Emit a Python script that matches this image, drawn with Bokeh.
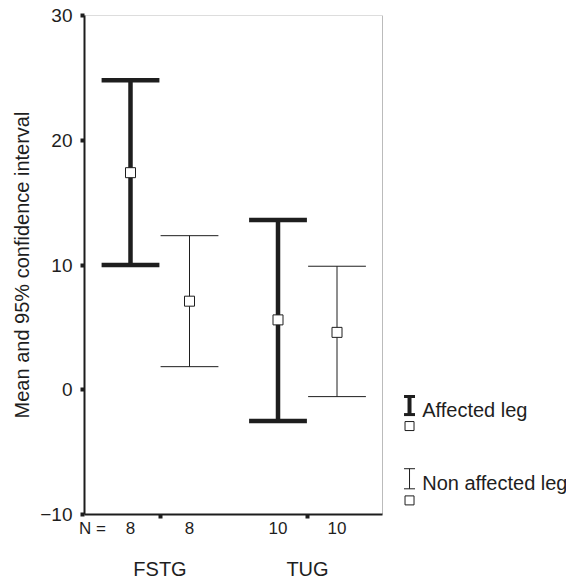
from bokeh.plotting import figure
from bokeh.models import Range1d, FixedTicker, LinearAxis, ColumnDataSource, BoxAnnotation
from bokeh.embed import file_html
from bokeh.resources import INLINE
from bokeh.core.properties import value

# ---- data ----
groups = ["FSTG", "TUG"]
series = ["Affected leg", "Non affected leg"]
n_label = "N ="
n_affected = [8, 10]
n_non = [8, 10]
mean_affected = [17.4, 5.6]
lower_affected = [10.0, -2.5]
upper_affected = [24.8, 13.6]
mean_non = [7.1, 4.6]
lower_non = [1.85, -0.55]
upper_non = [12.35, 9.9]
y_ticks = [-10, 0, 10, 20, 30]

# ---- layout constants ----
FONT = "Liberation Sans"
INK = "#1e1e1e"
group_centers = [1.5, 4.0]
offset = 0.5
cap_half = 0.49
n_label_x = 0.356
X0, XBOX, X1 = 0.2203, 5.2711, 8.3897
Y0, Y1 = -10, 30

x_aff = [g - offset for g in group_centers]
x_non = [g + offset for g in group_centers]

p = figure(width=566, height=582,
           x_range=Range1d(X0, X1), y_range=Range1d(Y0, Y1),
           output_backend="svg", toolbar_location=None,
           x_axis_location=None,
           min_border_left=84, min_border_right=0, min_border_top=15, min_border_bottom=50)
p.xgrid.visible = False
p.ygrid.visible = False
p.outline_line_color = None
p.background_fill_color = "white"

p.add_layout(BoxAnnotation(left=X0, right=XBOX, bottom=Y0, top=Y1,
                           fill_color=None, line_color=INK, line_width=1))

ya = p.yaxis[0]
ya.ticker = FixedTicker(ticks=y_ticks, minor_ticks=[])
ya.major_label_overrides = {float(t): (("\u2212" + str(abs(t))) if t < 0 else str(t)) for t in y_ticks}
ya.axis_line_color = INK
ya.axis_line_width = 2
ya.major_tick_out = 4
ya.major_tick_in = 0
ya.major_tick_line_width = 4
ya.major_tick_line_color = INK
ya.minor_tick_line_color = None
ya.major_label_standoff = 8
ya.major_label_text_font = FONT
ya.major_label_text_font_size = "19px"
ya.major_label_text_color = INK
ya.axis_label = "Mean and 95% confidence interval"
ya.axis_label_text_font = FONT
ya.axis_label_text_font_size = "20px"
ya.axis_label_text_font_style = "normal"
ya.axis_label_text_color = INK
ya.axis_label_standoff = 4

n_ticks = [n_label_x] + x_aff + x_non
n_texts = [n_label] + [str(v) for v in n_affected] + [str(v) for v in n_non]
ax1 = LinearAxis(ticker=FixedTicker(ticks=n_ticks, minor_ticks=group_centers), bounds=(X0, XBOX))
ax1.major_label_overrides = {float(t): s for t, s in zip(n_ticks, n_texts)}
ax1.axis_line_color = INK
ax1.axis_line_width = 2
ax1.major_tick_out = 0
ax1.major_tick_in = 0
ax1.major_tick_line_color = None
ax1.minor_tick_out = 4
ax1.minor_tick_in = 0
ax1.minor_tick_line_width = 4
ax1.minor_tick_line_color = INK
ax1.major_label_standoff = 0
ax1.major_label_text_font = FONT
ax1.major_label_text_font_size = "17px"
ax1.major_label_text_color = INK
p.add_layout(ax1, "below")

ax2 = LinearAxis(ticker=FixedTicker(ticks=group_centers, minor_ticks=[]))
ax2.major_label_overrides = {float(t): s for t, s in zip(group_centers, groups)}
ax2.axis_line_color = None
ax2.major_tick_line_color = None
ax2.minor_tick_line_color = None
ax2.major_label_standoff = 11
ax2.major_label_text_font = FONT
ax2.major_label_text_font_size = "20px"
ax2.major_label_text_color = INK
p.add_layout(ax2, "below")

def draw_series(xs, lo, hi, mean, lw_v, lw_cap):
    src = ColumnDataSource(dict(
        x=xs, lo=lo, hi=hi, mean=mean,
        xl=[x - cap_half for x in xs], xr=[x + cap_half for x in xs]))
    p.segment(x0="x", y0="lo", x1="x", y1="hi", source=src, line_color=INK, line_width=lw_v)
    p.segment(x0="xl", y0="hi", x1="xr", y1="hi", source=src, line_color=INK, line_width=lw_cap)
    p.segment(x0="xl", y0="lo", x1="xr", y1="lo", source=src, line_color=INK, line_width=lw_cap)
    p.scatter(x="x", y="mean", source=src, marker="square", size=10,
              fill_color="white", line_color=INK, line_width=1)

draw_series(x_aff, lower_affected, upper_affected, mean_affected, 4.5, 4.5)
draw_series(x_non, lower_non, upper_non, mean_non, 1, 1)

lx = 5.729
lcap = 0.093
lsrc = ColumnDataSource(dict(
    x=[lx, lx], top=[-0.54, -6.33], bot=[-1.99, -7.94],
    xl=[lx - lcap, lx - lcap], xr=[lx + lcap, lx + lcap],
    lw=[4, 1], cw=[3, 1],
    tx=[5.944, 5.944], ty=[-1.6, -7.5], sq=[-2.91, -8.87], label=series))
p.segment(x0="x", y0="top", x1="x", y1="bot", source=lsrc, line_color=INK, line_width="lw")
p.segment(x0="xl", y0="top", x1="xr", y1="top", source=lsrc, line_color=INK, line_width="cw")
p.segment(x0="xl", y0="bot", x1="xr", y1="bot", source=lsrc, line_color=INK, line_width="cw")
p.scatter(x="x", y="sq", source=lsrc, marker="square", size=9,
          fill_color="white", line_color=INK, line_width=1)
p.text(x="tx", y="ty", text="label", source=lsrc, text_font=value(FONT),
       text_font_size="20px", text_baseline="alphabetic", text_color=INK)

open("out.html", "w").write(file_html(p, INLINE))
